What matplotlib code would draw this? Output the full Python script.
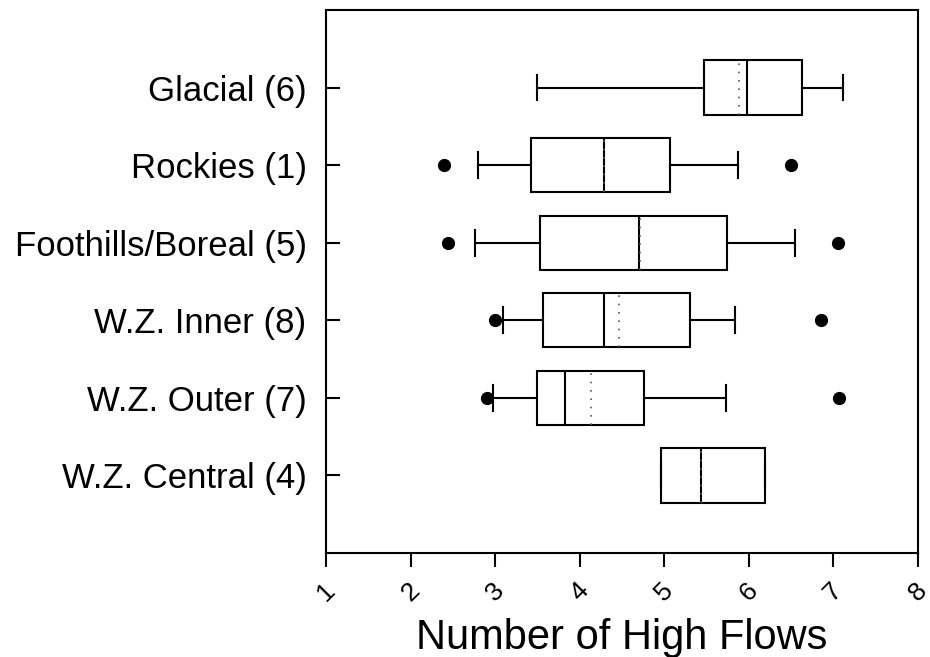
import numpy as np
import matplotlib.pyplot as plt

plt.rcParams['font.family'] = ['Liberation Sans', 'DejaVu Sans']

# regions, listed top to bottom
regions = ['Glacial (6)', 'Rockies (1)', 'Foothills/Boreal (5)',
           'W.Z. Inner (8)', 'W.Z. Outer (7)', 'W.Z. Central (4)']
whisk_lo = [3.49, 2.80, 2.76, 3.09, 2.98, 4.96]
q1 = [5.47, 3.43, 3.53, 3.57, 3.49, 4.96]
median = [5.98, 4.29, 4.70, 4.29, 3.83, 5.43]
mean = [5.89, 4.29, 4.71, 4.47, 4.13, 5.44]
q3 = [6.63, 5.07, 5.74, 5.30, 4.76, 6.19]
whisk_hi = [7.11, 5.87, 6.55, 5.84, 5.73, 6.19]
outliers = [[], [2.40, 6.50], [2.44, 7.06], [3.00, 6.85], [2.91, 7.07], []]

stats = []
for i in range(len(regions)):
    stats.append(dict(label=regions[i], whislo=whisk_lo[i], q1=q1[i], med=median[i],
                      mean=mean[i], q3=q3[i], whishi=whisk_hi[i], fliers=outliers[i]))

pos = np.arange(len(regions), 0, -1)

fig = plt.figure(figsize=(9.3, 6.57), dpi=100)
ax = fig.add_axes([0.3505, 0.1583, 0.6365, 0.8265])

lw = 1.5
ax.bxp(stats, positions=pos, vert=False, widths=0.7, capwidths=0.33,
       showmeans=True, meanline=True, patch_artist=True,
       boxprops=dict(facecolor='white', edgecolor='black', linewidth=lw),
       medianprops=dict(color='black', linewidth=lw),
       meanprops=dict(color='0.35', linestyle=(0, (1, 4)), linewidth=1.2),
       whiskerprops=dict(color='black', linewidth=lw),
       capprops=dict(color='black', linewidth=lw),
       flierprops=dict(marker='o', markerfacecolor='black', markeredgecolor='black',
                       markersize=8.5))

ax.set_xlim(1, 8)
ax.set_ylim(0, 7)
ax.set_xticks(range(1, 9))
ax.set_xticklabels([str(v) for v in range(1, 9)], rotation=45, ha='center', fontsize=19)
ax.set_yticks(pos)
ax.set_yticklabels(regions, fontsize=25)
ax.tick_params(axis='y', direction='in', length=10, width=lw, pad=14)
ax.tick_params(axis='x', direction='out', length=10, width=lw, pad=8)
for s in ax.spines.values():
    s.set_linewidth(lw)

ax.set_xlabel('Number of High Flows', fontsize=30, labelpad=9)

fig.savefig('out.png', dpi=100)
